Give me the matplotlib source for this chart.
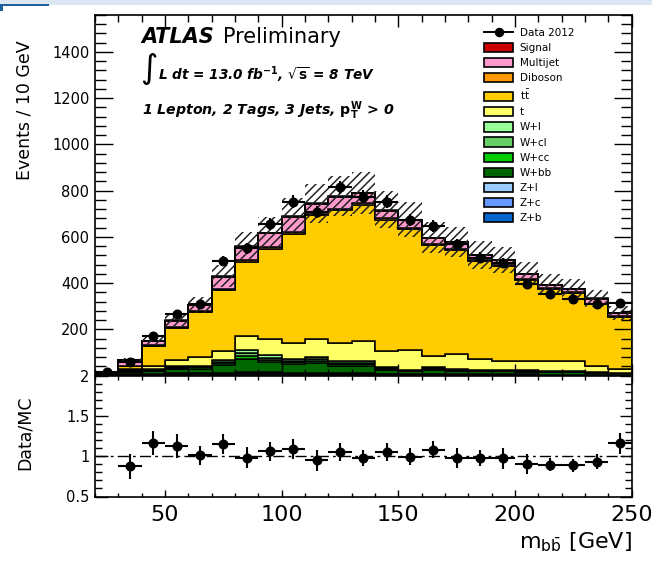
import numpy as np
from matplotlib import pyplot as plt
from matplotlib.lines import Line2D
from matplotlib.patches import Patch, Rectangle
from matplotlib.ticker import MultipleLocator, FuncFormatter

# m_bb binning, 10 GeV bins from 20 to 250
edges = np.arange(20, 260, 10)
centers = edges[:-1] + 5

data = [14, 58, 173, 268, 308, 494, 550, 655, 752, 708, 814, 773,
        752, 672, 646, 568, 510, 487, 398, 351, 333, 311, 314]

# stacked backgrounds (events per bin)
z_b = [0.5, 2, 3, 4, 4, 5, 6, 5, 5, 5, 4, 4, 3, 2, 3, 2, 2, 2, 2, 2, 2, 1, 1]
z_c = [0.5, 2, 2, 3, 3, 4, 5, 4, 4, 4, 3, 3, 2, 2, 2, 2, 2, 2, 2, 1, 1, 1, 1]
z_l = [0.5, 1, 2, 2, 2, 3, 4, 4, 3, 3, 3, 3, 2, 2, 2, 2, 2, 2, 1, 1, 1, 1, 1]
w_bb = [1, 10, 14, 18, 20, 32, 55, 44, 36, 40, 30, 30, 17, 12, 18, 14, 12, 12, 11, 10, 9, 8, 6]
w_cc = [0.2, 3, 4, 6, 6, 10, 16, 12, 10, 12, 9, 9, 5, 3, 5, 4, 3, 3, 3, 3, 2, 2, 1]
w_cl = [0.2, 2, 2, 3, 4, 6, 10, 8, 6, 7, 5, 5, 3, 2, 3, 2, 2, 2, 1, 1, 1, 1, 1]
w_l = [0.1, 2, 3, 4, 4, 8, 15, 10, 8, 9, 7, 7, 4, 2, 3, 2, 2, 2, 2, 2, 2, 1, 1]
single_top = [1, 6, 13, 28, 36, 36, 62, 70, 68, 79, 79, 88, 68, 87, 48, 66, 47, 37, 40, 42, 44, 24, 17]
ttbar = [0.7, 12, 83, 137, 196, 264, 317, 392, 474, 534, 575, 589,
         570, 522, 482, 450, 422, 411, 353, 313, 296, 269, 224]
diboson = [0.3, 2, 4, 5, 6, 8, 9, 8, 8, 8, 7, 7, 6, 6, 5, 5, 5, 4, 4, 4, 3, 3, 3]
multijet = [1, 24, 18, 28, 22, 52, 59, 58, 65, 42, 52, 43, 34, 33, 24, 28, 21, 21, 21, 13, 14, 22, 14]
signal = [0, 0.5, 1, 1, 1.5, 2, 2, 2, 2.5, 2.5, 3, 3, 2.5, 2, 2, 1.5, 1.5, 1, 1, 1, 1, 0.5, 0.5]

# total MC uncertainty (hatched band) and Data/MC errors
mc_unc = [1, 8, 17, 27, 34, 48, 63, 70, 78, 84, 88, 90, 80, 76, 68, 65, 59, 56, 50, 45, 43, 38, 31]
ratio_err = [0.2, 0.16, 0.15, 0.15, 0.12, 0.12, 0.13, 0.12, 0.12, 0.13, 0.11, 0.10,
             0.11, 0.10, 0.11, 0.125, 0.10, 0.13, 0.125, 0.08, 0.08, 0.09, 0.13]

# bottom of the stack first
stack = [
    ("Z+b", z_b, "#0066cc"),
    ("Z+c", z_c, "#6699ff"),
    ("Z+l", z_l, "#99ccff"),
    ("W+bb", w_bb, "#006600"),
    ("W+cc", w_cc, "#00cc00"),
    ("W+cl", w_cl, "#66cc66"),
    ("W+l", w_l, "#99ff99"),
    ("t", single_top, "#ffff66"),
    (r"t$\bar{\rm t}$", ttbar, "#ffcc00"),
    ("Diboson", diboson, "#ff9900"),
    ("Multijet", multijet, "#ff99cc"),
    ("Signal", signal, "#cc0000"),
]

plt.rcParams["hatch.linewidth"] = 1.1

W, H = 652, 571
fig = plt.figure(figsize=(W / 100, H / 100), dpi=100)
ax = fig.add_axes([95 / W, 1 - 375.5 / H, 536.7 / W, 360.5 / H])
rax = fig.add_axes([95 / W, 1 - 496.5 / H, 536.7 / W, 121 / H], sharex=ax)

# screenshot header strip
fig.patches.append(Rectangle((0, 1 - 5 / H), 1, 5 / H, transform=fig.transFigure,
                             facecolor="#dce7f4", edgecolor="none"))
fig.patches.append(Rectangle((0, 1 - 6 / H), 49 / W, 2 / H, transform=fig.transFigure,
                             facecolor="#1f5f9f", edgecolor="none"))
fig.patches.append(Rectangle((0, 1 - 11 / H), 3 / W, 7 / H, transform=fig.transFigure,
                             facecolor="#1f5f9f", edgecolor="none"))

bottom = np.zeros(len(centers))
for label, values, color in stack:
    values = np.asarray(values, dtype=float)
    ax.stairs(bottom + values, edges, baseline=bottom, fill=True,
              facecolor=color, edgecolor="black", linewidth=1.1)
    bottom = bottom + values
mc_total = bottom

unc = np.asarray(mc_unc, dtype=float)
ax.stairs(mc_total + unc, edges, baseline=mc_total - unc, fill=True,
          facecolor="none", edgecolor="#222222", hatch="////", linewidth=0)

data = np.asarray(data, dtype=float)
ax.errorbar(centers, data, xerr=5, yerr=np.sqrt(data), fmt="o", color="black",
            ms=6.2, elinewidth=1.5, capsize=0, zorder=5)

ax.set_xlim(20, 250)
ax.set_ylim(0, 1560)
ax.yaxis.set_major_locator(MultipleLocator(200))
ax.yaxis.set_minor_locator(MultipleLocator(40))
ax.yaxis.set_major_formatter(FuncFormatter(lambda v, p: "" if v == 0 else f"{v:g}"))
ax.xaxis.set_major_locator(MultipleLocator(50))
ax.xaxis.set_minor_locator(MultipleLocator(10))
ax.tick_params(axis="both", which="both", direction="in", top=True, right=True,
               labelbottom=False, labelsize=10.5, width=1.0, pad=4)
ax.tick_params(axis="y", which="major", length=13)
ax.tick_params(axis="y", which="minor", length=8)
ax.tick_params(axis="x", which="major", length=8.6)
ax.tick_params(axis="x", which="minor", length=5)
for s in ax.spines.values():
    s.set_linewidth(1.2)

ax.set_ylabel("Events / 10 GeV", fontsize=12.5, loc="top")
ax.yaxis.set_label_coords(-0.115, (375.5 - 40) / 360.5)

# ATLAS labels
ax.text(0.087, 0.9215, "ATLAS", transform=ax.transAxes, fontsize=15,
        fontweight="bold", fontstyle="italic", va="baseline")
ax.text(0.239, 0.9215, "Preliminary", transform=ax.transAxes, fontsize=15, va="baseline")
ax.text(0.084, 0.852, "\u222b", transform=ax.transAxes, fontsize=24, va="center")
ax.text(0.1174, 0.8197, r"L dt = 13.0 fb$^{\mathbf{-1}}$, $\mathbf{\sqrt{s}}$ = 8 TeV",
        transform=ax.transAxes, fontsize=9.8, fontweight="bold", fontstyle="italic",
        va="baseline")
ax.text(0.087, 0.7226, r"1 Lepton, 2 Tags, 3 Jets, $\mathbf{p_{T}^{W}}$ > 0",
        transform=ax.transAxes, fontsize=10.2, fontweight="bold", fontstyle="italic",
        va="baseline")

# legend, top to bottom
handles = [Line2D([], [], color="black", marker="o", ms=5.8, lw=1.4)]
labels = ["Data 2012"]
for label, values, color in stack[::-1]:
    handles.append(Patch(facecolor=color, edgecolor="black", linewidth=1.2))
    labels.append(label)
ax.legend(handles, labels, loc="upper left", bbox_to_anchor=(0.725, 0.965),
          frameon=False, fontsize=7.5, borderpad=0, borderaxespad=0,
          handlelength=2.8, handleheight=1.0, handletextpad=0.6, labelspacing=0.47)

# ratio panel
ratio = data / mc_total
keep = mc_total > 10  # first bin is off scale
rax.axhline(1, color="black", lw=1.0, linestyle=(0, (8, 3, 2, 3)))
rax.errorbar(centers[keep], ratio[keep], xerr=5, yerr=np.asarray(ratio_err)[keep],
             fmt="o", color="black", ms=6.2, elinewidth=1.5, capsize=0)
rax.set_ylim(0.5, 2)
rax.yaxis.set_major_locator(MultipleLocator(0.5))
rax.yaxis.set_minor_locator(MultipleLocator(0.1))
rax.yaxis.set_major_formatter(FuncFormatter(lambda v, p: f"{v:g}"))
rax.tick_params(axis="both", which="both", direction="in", top=True, right=True, width=1.0)
rax.tick_params(axis="y", which="major", length=9, labelsize=10.5, pad=4)
rax.tick_params(axis="y", which="minor", length=5)
rax.tick_params(axis="x", which="major", length=5, labelsize=16, pad=6)
rax.tick_params(axis="x", which="minor", length=3)
for s in rax.spines.values():
    s.set_linewidth(1.2)

rax.set_ylabel("Data/MC", fontsize=12.5, loc="top")
rax.yaxis.set_label_coords(-0.115, (496.5 - 395) / 121)
rax.set_xlabel(r"m$_{\mathrm{b\bar{b}}}$ [GeV]", fontsize=16, loc="right")

fig.savefig("out.png", dpi=100)
